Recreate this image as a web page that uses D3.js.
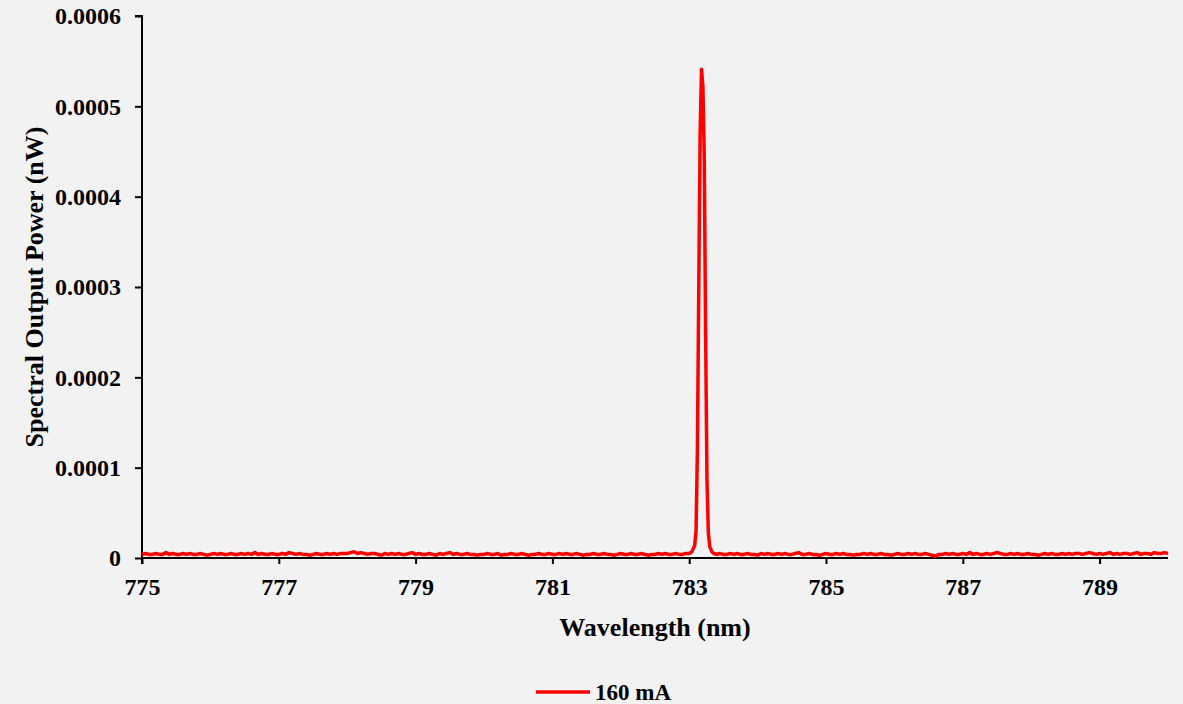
<!DOCTYPE html>
<html>
<head>
<meta charset="utf-8">
<script src="https://cdn.jsdelivr.net/npm/d3@7"></script>
<style>
  html, body { margin: 0; padding: 0; background: #f2f2f2; }
  svg { display: block; }
  text { font-family: "Liberation Serif", "Times New Roman", serif; font-weight: bold; fill: #000; }
</style>
</head>
<body>
<svg id="chart" width="1183" height="704"></svg>
<script>
// ---- Data (power values in fW = 1e-6 nW) ----
const seriesName = "160 mA";
const xTickValues = [775, 777, 779, 781, 783, 785, 787, 789];
const yTickValues = [0, 0.0001, 0.0002, 0.0003, 0.0004, 0.0005, 0.0006];
const yTickLabels = ["0", "0.0001", "0.0002", "0.0003", "0.0004", "0.0005", "0.0006"];
const xDomain = [775, 790];
const yDomain = [0, 0.0006];

// baseline left of the peak: 775.00 .. 782.95 nm, sampled every 0.05 nm
const leftStartNm = 775.00, sampleStepNm = 0.05;
const leftBaselineFw = [
  4,5,4,4,5,4,4,6,4,5,4,4,5,4,5,4,4,5,4,3,4,5,4,5,4,4,5,4,4,5,4,5,4,6,4,5,4,4,5,4,4,5,4,6,5,4,5,4,4,3,4,5,4,4,5,4,5,4,5,5,
  5,6,7,5,6,5,4,5,5,4,3,5,4,5,4,5,4,4,5,6,4,5,4,4,5,4,3,5,4,5,6,4,5,4,4,5,4,4,3,4,4,5,4,4,5,3,4,4,5,4,4,5,4,3,4,4,5,4,4,5,
  4,4,5,4,5,4,4,5,4,3,4,4,5,4,4,5,4,4,3,4,5,4,4,5,4,4,5,4,3,4,4,5,4,5,4,4,5,4,4,5
];
// lasing peak region
const peakWavelengthsNm = [783.00, 783.04, 783.08, 783.10, 783.12, 783.14, 783.16, 783.18, 783.20, 783.22, 783.24, 783.26, 783.28, 783.30, 783.33, 783.36];
const peakPowerFw       = [5,      7,      14,     30,     120,    300,    470,    541,    522,    445,    250,    85,     28,     13,     7,      5];
// baseline right of the peak: 783.40 .. 790.00 nm, sampled every 0.05 nm
const rightStartNm = 783.40;
const rightBaselineFw = [
  4,5,4,4,5,4,5,4,4,5,4,4,3,5,4,5,4,4,5,4,5,4,4,5,6,4,4,5,4,4,3,4,5,4,4,5,4,5,4,4,3,4,4,5,4,5,4,4,5,4,4,3,4,5,4,4,5,4,5,4,
  4,5,4,3,2,4,4,5,4,5,4,4,5,4,6,4,5,4,4,5,4,5,6,5,4,4,5,4,5,4,4,5,4,4,3,4,5,4,5,4,4,5,4,5,4,5,5,4,5,6,5,4,5,4,5,6,4,5,4,5,
  5,4,5,6,4,5,5,4,6,5,5,6,5
];

// ---- assemble series (fW -> nW) ----
const fwToNw = 1e-6;
const points = [];
leftBaselineFw.forEach((v, i) => points.push({ x: leftStartNm + i * sampleStepNm, y: v * fwToNw }));
peakWavelengthsNm.forEach((w, i) => points.push({ x: w, y: peakPowerFw[i] * fwToNw }));
rightBaselineFw.forEach((v, i) => points.push({ x: rightStartNm + i * sampleStepNm, y: v * fwToNw }));

// ---- layout ----
const svg = d3.select("#chart");
const plotLeft = 142, plotRight = 1168, plotTop = 16, plotBottom = 558;

const x = d3.scaleLinear().domain(xDomain).range([plotLeft, plotRight]);
const y = d3.scaleLinear().domain(yDomain).range([plotBottom, plotTop]);

// y axis
const yAxis = d3.axisLeft(y).tickValues(yTickValues)
  .tickFormat((d, i) => yTickLabels[i]).tickSize(7).tickPadding(14);
const gy = svg.append("g").attr("transform", `translate(${plotLeft},0)`).call(yAxis);
gy.select(".domain").attr("stroke", "#000").attr("stroke-width", 2)
  .attr("d", `M-7,${plotTop}H0V${plotBottom + 6}`);
gy.selectAll(".tick line").attr("stroke", "#000").attr("stroke-width", 2);
gy.selectAll(".tick text").style("font-size", "24px")
  .style("font-family", "'Liberation Serif', serif").style("font-weight", "bold");

// x axis
const xAxis = d3.axisBottom(x).tickValues(xTickValues)
  .tickFormat(d3.format("d")).tickSize(6).tickPadding(14);
const gx = svg.append("g").attr("transform", `translate(0,${plotBottom})`).call(xAxis);
gx.select(".domain").attr("stroke", "#000").attr("stroke-width", 2)
  .attr("d", `M${plotLeft},0H${plotRight}`);
gx.selectAll(".tick line").attr("stroke", "#000").attr("stroke-width", 2);
gx.selectAll(".tick text").style("font-size", "24px")
  .style("font-family", "'Liberation Serif', serif").style("font-weight", "bold");

// line
const line = d3.line().x(d => x(d.x)).y(d => y(d.y));
svg.append("path").datum(points)
  .attr("fill", "none").attr("stroke", "#ff0000").attr("stroke-width", 3.5)
  .attr("stroke-linejoin", "round").attr("d", line);

// axis titles
svg.append("text").attr("x", 655).attr("y", 636).attr("text-anchor", "middle")
  .style("font-size", "26px").text("Wavelength (nm)");
svg.append("text").attr("transform", "translate(43,287) rotate(-90)")
  .attr("text-anchor", "middle").style("font-size", "26px").text("Spectral Output Power (nW)");

// legend
const lg = svg.append("g");
lg.append("line").attr("x1", 536).attr("x2", 590).attr("y1", 692).attr("y2", 692)
  .attr("stroke", "#ff0000").attr("stroke-width", 3.5);
lg.append("text").attr("x", 595).attr("y", 700).style("font-size", "23px").text(seriesName);
</script>
</body>
</html>
